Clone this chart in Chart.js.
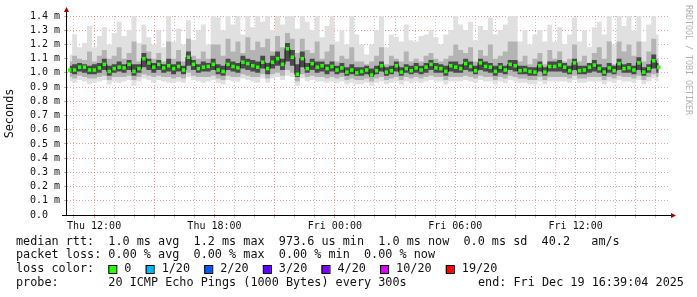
<!DOCTYPE html>
<html>
<head>
<meta charset="utf-8">
<script src="https://cdn.jsdelivr.net/npm/chart.js@4/dist/chart.umd.min.js"></script>
<style>
  html, body { margin: 0; padding: 0; background: #fff; }
</style>
</head>
<body>
<canvas id="c" width="697" height="297"></canvas>
<script>
// time axis in minutes from Thu 00:00
const START_MIN = 639.07;   // Thu 10:39:04
const END_MIN = 2439.07;    // Fri 16:39:04
const FIRST_STEP = 647;
const STEP_MIN = 14.8;

// median rtt (ms)
const medianRtt = [
  1.02,1.02,1.04,1.04,1.02,1.02,1.035,1.06,1.01,1.03,
  1.04,1.035,1.06,1.01,1.03,1.10,1.07,1.04,1.06,1.035,
  1.05,1.03,1.045,1.02,1.11,1.06,1.03,1.04,1.045,1.06,
  1.02,1.01,1.06,1.045,1.035,1.075,1.065,1.05,1.04,1.075,
  1.03,1.075,1.10,1.06,1.17,1.11,0.99,1.10,1.03,1.065,
  1.04,1.05,1.03,1.045,1.02,1.035,1.005,1.02,1.00,1.01,
  1.02,0.985,1.015,1.05,1.005,1.015,1.05,1.005,1.03,1.015,
  1.035,1.02,1.04,1.06,1.035,1.03,1.01,1.05,1.04,1.03,
  1.065,1.045,1.015,1.07,1.045,1.04,1.01,1.04,1.02,1.06,
  1.05,1.015,1.02,1.01,1.005,1.05,1.005,1.045,1.045,1.055,
  1.04,1.015,1.07,1.015,1.02,1.04,1.055,1.03,1.005,1.035,
  1.015,1.065,1.03,1.035,1.02,1.07,1.005,1.03,1.085,1.04
];

// smoke: outer pings (light)
const lightHi = [
  1.13,1.27,1.18,1.21,1.33,1.18,1.26,1.32,1.20,1.28,
  1.36,1.26,1.30,1.40,1.21,1.34,1.25,1.20,1.30,1.18,
  1.40,1.22,1.31,1.20,1.37,1.23,1.30,1.34,1.20,1.40,
  1.39,1.30,1.40,1.34,1.40,1.27,1.40,1.32,1.40,1.36,
  1.40,1.30,1.40,1.34,1.40,1.40,1.31,1.40,1.36,1.30,
  1.40,1.25,1.33,1.40,1.22,1.30,1.20,1.40,1.27,1.20,
  1.13,1.20,1.30,1.40,1.18,1.27,1.25,1.22,1.34,1.23,
  1.22,1.26,1.27,1.30,1.25,1.20,1.27,1.30,1.40,1.34,
  1.30,1.36,1.23,1.33,1.30,1.39,1.27,1.30,1.34,1.40,
  1.40,1.22,1.30,1.20,1.27,1.30,1.22,1.34,1.22,1.32,
  1.20,1.27,1.39,1.22,1.30,1.18,1.32,1.36,1.27,1.40,
  1.20,1.40,1.33,1.40,1.30,1.40,1.22,1.34,1.40,1.27
];
const lightLo = [
  0.94,0.93,0.95,0.94,0.92,0.93,0.94,0.95,0.92,0.94,
  0.93,0.94,0.95,0.91,0.94,0.96,0.95,0.93,0.95,0.94,
  0.93,0.93,0.94,0.93,0.97,0.95,0.94,0.93,0.94,0.95,
  0.93,0.92,0.95,0.94,0.94,0.96,0.95,0.94,0.93,0.96,
  0.93,0.96,0.97,0.95,0.98,0.97,0.91,0.96,0.94,0.95,
  0.94,0.94,0.93,0.94,0.93,0.94,0.92,0.93,0.92,0.92,
  0.93,0.91,0.93,0.94,0.92,0.93,0.94,0.92,0.94,0.93,
  0.94,0.93,0.94,0.95,0.94,0.94,0.92,0.94,0.94,0.94,
  0.95,0.94,0.93,0.95,0.94,0.94,0.92,0.94,0.93,0.95,
  0.94,0.93,0.93,0.92,0.92,0.94,0.92,0.94,0.94,0.94,
  0.94,0.93,0.95,0.93,0.93,0.94,0.94,0.94,0.92,0.94,
  0.93,0.95,0.94,0.94,0.93,0.95,0.92,0.94,0.96,0.94
];

// smoke: middle pings
const midHi = [
  1.08,1.12,1.10,1.09,1.15,1.08,1.12,1.16,1.10,1.12,
  1.18,1.10,1.14,1.22,1.08,1.20,1.15,1.10,1.14,1.08,
  1.22,1.10,1.16,1.08,1.24,1.12,1.10,1.15,1.10,1.20,
  1.20,1.12,1.24,1.15,1.22,1.14,1.25,1.16,1.22,1.18,
  1.24,1.15,1.26,1.18,1.28,1.24,1.14,1.24,1.16,1.14,
  1.22,1.10,1.15,1.20,1.08,1.12,1.10,1.18,1.08,1.08,
  1.06,1.08,1.12,1.18,1.06,1.12,1.10,1.08,1.15,1.08,
  1.10,1.08,1.12,1.14,1.10,1.08,1.10,1.12,1.20,1.16,
  1.14,1.18,1.08,1.16,1.12,1.20,1.10,1.12,1.15,1.22,
  1.22,1.08,1.12,1.06,1.10,1.14,1.06,1.16,1.10,1.15,
  1.08,1.10,1.20,1.08,1.12,1.06,1.14,1.18,1.10,1.22,
  1.06,1.22,1.15,1.20,1.12,1.22,1.08,1.15,1.24,1.10
];
const midLo = [
  0.97,0.96,0.98,0.97,0.96,0.96,0.97,0.98,0.95,0.97,
  0.97,0.97,0.98,0.95,0.97,0.99,0.98,0.97,0.98,0.97,
  0.97,0.96,0.97,0.96,1.00,0.98,0.97,0.97,0.97,0.98,
  0.96,0.95,0.98,0.97,0.97,0.99,0.98,0.97,0.97,0.99,
  0.96,0.99,1.00,0.98,1.02,1.00,0.94,0.99,0.97,0.98,
  0.97,0.97,0.96,0.97,0.96,0.97,0.95,0.96,0.95,0.95,
  0.96,0.94,0.96,0.97,0.95,0.96,0.97,0.95,0.97,0.96,
  0.97,0.96,0.97,0.98,0.97,0.97,0.95,0.97,0.97,0.97,
  0.98,0.97,0.96,0.98,0.97,0.97,0.95,0.97,0.96,0.98,
  0.97,0.96,0.96,0.95,0.95,0.97,0.95,0.97,0.97,0.97,
  0.97,0.96,0.98,0.96,0.96,0.97,0.97,0.97,0.95,0.97,
  0.96,0.98,0.97,0.97,0.96,0.98,0.95,0.97,0.99,0.97
];

// smoke: pings closest to the median (dark)
const darkHi = [
  1.05,1.06,1.07,1.06,1.05,1.06,1.07,1.10,1.05,1.06,
  1.08,1.06,1.09,1.06,1.06,1.14,1.10,1.07,1.09,1.06,
  1.10,1.06,1.08,1.05,1.15,1.09,1.06,1.08,1.07,1.10,
  1.06,1.05,1.10,1.08,1.07,1.12,1.10,1.09,1.08,1.12,
  1.07,1.12,1.15,1.10,1.21,1.16,1.06,1.15,1.07,1.10,
  1.08,1.08,1.06,1.08,1.05,1.07,1.04,1.06,1.04,1.04,
  1.05,1.03,1.05,1.08,1.04,1.05,1.08,1.04,1.06,1.05,
  1.07,1.05,1.07,1.09,1.07,1.06,1.05,1.08,1.08,1.06,
  1.10,1.08,1.05,1.10,1.08,1.07,1.05,1.07,1.05,1.09,
  1.09,1.05,1.05,1.04,1.04,1.08,1.04,1.08,1.08,1.09,
  1.07,1.05,1.10,1.05,1.05,1.07,1.09,1.06,1.04,1.07,
  1.05,1.10,1.06,1.07,1.05,1.11,1.04,1.06,1.13,1.07
];
const darkLo = [
  1.00,0.99,1.01,1.00,0.99,0.99,1.00,1.02,0.98,1.00,
  1.01,1.00,1.02,0.98,1.00,1.04,1.02,1.00,1.02,1.00,
  1.01,0.99,1.01,0.99,1.05,1.02,1.00,1.01,1.01,1.02,
  0.99,0.98,1.02,1.01,1.00,1.03,1.02,1.01,1.00,1.03,
  0.99,1.03,1.05,1.02,1.08,1.05,0.97,1.04,1.00,1.02,
  1.00,1.01,0.99,1.01,0.99,1.00,0.98,0.99,0.98,0.98,
  0.99,0.97,0.99,1.01,0.98,0.99,1.01,0.98,1.00,0.99,
  1.00,0.99,1.00,1.02,1.00,1.00,0.98,1.01,1.00,1.00,
  1.02,1.01,0.99,1.02,1.01,1.00,0.98,1.00,0.99,1.02,
  1.01,0.99,0.99,0.98,0.98,1.01,0.98,1.01,1.01,1.01,
  1.00,0.99,1.02,0.99,0.99,1.00,1.01,1.00,0.98,1.00,
  0.99,1.02,1.00,1.00,0.99,1.02,0.98,1.00,1.03,1.00
];

const lossLabels = ["0", "1/20", "2/20", "3/20", "4/20", "10/20", "19/20"];
const lossColors = ["#26ff00", "#00b8ff", "#0059ff", "#5e00ff", "#7e00ff", "#dd00ff", "#ff0000"];

const statMedian = "median rtt:  1.0 ms avg  1.2 ms max  973.6 us min  1.0 ms now  0.0 ms sd  40.2   am/s";
const statLoss = "packet loss: 0.00 % avg  0.00 % max  0.00 % min  0.00 % now";
const statProbe = "probe:       20 ICMP Echo Pings (1000 Bytes) every 300s";
const statEnd = "end: Fri Dec 19 16:39:04 2025";

const MONO = "'DejaVu Sans Mono', 'Liberation Mono', monospace";

function toPoints(arr) {
  return arr.map((v, i) => ({ x: FIRST_STEP + i * STEP_MIN, y: v }));
}

function band(arr, color, fillTarget) {
  return {
    data: toPoints(arr),
    stepped: "middle",
    borderWidth: 0,
    borderColor: "transparent",
    pointRadius: 0,
    backgroundColor: color,
    fill: fillTarget === undefined ? false : { target: fillTarget }
  };
}

function timeLabel(v) {
  const day = v < 1440 ? "Thu" : "Fri";
  const m = ((v % 1440) + 1440) % 1440;
  const hh = String(Math.floor(m / 60)).padStart(2, "0");
  const mm = String(Math.round(m % 60)).padStart(2, "0");
  return day + " " + hh + ":" + mm;
}

// axes arrows, titles, legend text
const rrdDecor = {
  id: "rrdDecor",
  afterDraw(chart) {
    const ctx = chart.ctx;
    const a = chart.chartArea;
    ctx.save();

    // axes
    ctx.strokeStyle = "#000";
    ctx.lineWidth = 1;
    ctx.beginPath();
    ctx.moveTo(a.left - 0.5, a.bottom + 0.5);
    ctx.lineTo(a.left - 0.5, a.top - 5);
    ctx.moveTo(a.left - 5, a.bottom + 0.5);
    ctx.lineTo(a.right + 3, a.bottom + 0.5);
    ctx.stroke();

    ctx.fillStyle = "#a00000";
    ctx.beginPath();
    ctx.moveTo(a.left - 3, a.top - 4);
    ctx.lineTo(a.left + 2, a.top - 4);
    ctx.lineTo(a.left - 0.5, a.top - 9);
    ctx.closePath();
    ctx.fill();
    ctx.beginPath();
    ctx.moveTo(a.right + 2, a.bottom - 2);
    ctx.lineTo(a.right + 2, a.bottom + 3);
    ctx.lineTo(a.right + 7, a.bottom + 0.5);
    ctx.closePath();
    ctx.fill();

    // vertical title
    ctx.fillStyle = "#111";
    ctx.font = "11.8px " + MONO;
    ctx.textAlign = "center";
    ctx.textBaseline = "middle";
    ctx.save();
    ctx.translate(10, 113.5);
    ctx.rotate(-Math.PI / 2);
    ctx.fillText("Seconds", 0, 0);
    ctx.restore();

    // watermark
    ctx.save();
    ctx.fillStyle = "#b0b0b0";
    ctx.font = "8.3px " + MONO;
    ctx.translate(688, 60);
    ctx.rotate(Math.PI / 2);
    ctx.fillText("RRDTOOL / TOBI OETIKER", 0, 0);
    ctx.restore();

    // legend lines
    ctx.textAlign = "left";
    ctx.fillStyle = "#111";
    const x0 = 16;
    ctx.fillText(statMedian, x0, 241.5);
    ctx.fillText(statLoss, x0, 255.3);
    ctx.fillText(statProbe, x0, 282.7);
    ctx.fillText(statEnd, 478, 282.7);

    const lossY = 269;
    ctx.fillText("loss color:", x0, lossY);
    const cw = ctx.measureText("0").width;
    let x = x0 + 13 * cw;
    lossLabels.forEach((lab, i) => {
      ctx.fillStyle = lossColors[i];
      ctx.fillRect(x, lossY - 4, 8, 8);
      ctx.strokeStyle = "#000";
      ctx.strokeRect(x + 0.5, lossY - 4 + 0.5, 8, 8);
      ctx.fillStyle = "#111";
      ctx.fillText(lab, x + 16, lossY);
      x += 16 + ctx.measureText(lab).width + 2 * cw;
    });

    ctx.restore();
  }
};

new Chart(document.getElementById("c"), {
  type: "line",
  data: {
    datasets: [
      {
        data: toPoints(medianRtt),
        stepped: "middle",
        borderColor: "#1a1a1a",
        borderWidth: 1,
        pointStyle: "rect",
        pointRadius: 2.5,
        pointBorderWidth: 0,
        pointBackgroundColor: lossColors[0],
        fill: false
      },
      band(darkLo, "#4a4a4a"),
      band(darkHi, "#4a4a4a", 1),
      band(midLo, "#b4b4b4"),
      band(midHi, "#b4b4b4", 3),
      band(lightLo, "#e0e0e0"),
      band(lightHi, "#e0e0e0", 5)
    ]
  },
  options: {
    responsive: false,
    devicePixelRatio: 1,
    animation: false,
    layout: { padding: { top: 16, right: 28, left: 0, bottom: 0 } },
    plugins: { legend: { display: false }, tooltip: { enabled: false } },
    scales: {
      x: {
        type: "linear",
        min: START_MIN,
        max: END_MIN,
        afterFit(s) { s.height = 82; },
        afterBuildTicks(s) {
          const t = [];
          for (let v = Math.ceil(START_MIN / 60) * 60; v <= END_MIN; v += 60) t.push({ value: v });
          s.ticks = t;
        },
        border: { display: false, dash: [1, 2] },
        grid: {
          color: (c) => (c.tick && c.tick.value % 180 === 0 ? "rgba(220,80,80,0.55)" : "rgba(150,150,150,0.55)"),
          tickLength: 3,
          lineWidth: 1
        },
        ticks: {
          autoSkip: false,
          maxRotation: 0,
          padding: 2,
          color: "#111",
          font: { family: MONO, size: 10 },
          callback: (v) => (v % 360 === 0 ? timeLabel(v) : "")
        }
      },
      y: {
        min: 0,
        max: 1.4,
        afterFit(s) { s.width = 67; },
        border: { display: false, dash: [1, 2] },
        grid: {
          color: (c) => (c.tick && c.tick.value > 0.001 ? "rgba(220,80,80,0.55)" : "rgba(0,0,0,0)"),
          tickLength: 3
        },
        ticks: {
          stepSize: 0.1,
          autoSkip: false,
          padding: 4,
          color: "#111",
          font: { family: MONO, size: 10 },
          callback: (v) => (Math.abs(v) < 0.001 ? "0.0  " : v.toFixed(1) + " m")
        }
      }
    }
  },
  plugins: [rrdDecor]
});
</script>
</body>
</html>
